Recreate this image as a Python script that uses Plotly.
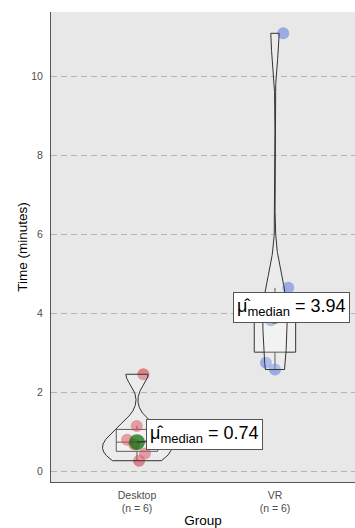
import numpy as np
import plotly.graph_objects as go

# Completion times per group (minutes)
groups = ["Desktop", "VR"]
desktop_times = [0.27, 0.45, 0.68, 0.80, 1.15, 2.46]
vr_times = [2.58, 2.75, 3.83, 4.05, 4.65, 11.10]
# horizontal jitter of the raw points (category units)
desktop_jitter = [0.015, 0.058, -0.02, -0.072, -0.002, 0.046]
vr_jitter = [0.0, -0.065, -0.03, 0.04, 0.096, 0.06]

y_ticks = [0, 2, 4, 6, 8, 10]

data = [desktop_times, vr_times]
jitters = [desktop_jitter, vr_jitter]
point_colors = ["rgba(205,30,45,0.5)", "rgba(78,112,224,0.5)"]
FONT = "Liberation Sans, Arial, sans-serif"
LINE = "#333333"


def bw_nrd0(v):
    v = np.asarray(v, float)
    iqr = np.subtract(*np.percentile(v, [75, 25]))
    return 0.9 * min(v.std(ddof=1), iqr / 1.34) * len(v) ** -0.2


def kde_trimmed(v, n=512):
    """Gaussian KDE evaluated over the data range (trimmed violin)."""
    v = np.asarray(v, float)
    bw = bw_nrd0(v)
    grid = np.linspace(v.min(), v.max(), n)
    z = (grid[:, None] - v[None, :]) / bw
    dens = np.exp(-0.5 * z ** 2).sum(1) / (len(v) * bw * np.sqrt(2 * np.pi))
    return grid, dens


kdes = [kde_trimmed(v) for v in data]
dmax = max(d.max() for _, d in kdes)
VIOLIN_WIDTH = 0.5  # full width of the widest violin, category units

fig = go.Figure()

# raw observations
for i, (v, jit) in enumerate(zip(data, jitters)):
    fig.add_trace(go.Scatter(
        x=[i + 1 + j for j in jit], y=v, mode="markers",
        marker=dict(size=12, color=point_colors[i], line=dict(width=0)),
        showlegend=False, hoverinfo="skip"))

# violins, area-scaled across groups
for i, (grid, dens) in enumerate(kdes):
    half = dens / dmax * VIOLIN_WIDTH / 2
    xs = np.concatenate([i + 1 + half, (i + 1 - half)[::-1], [i + 1 + half[0]]])
    ys = np.concatenate([grid, grid[::-1], [grid[0]]])
    fig.add_trace(go.Scatter(
        x=xs, y=ys, mode="lines", fill="toself",
        fillcolor="rgba(255,255,255,0.2)",
        line=dict(color=LINE, width=1), showlegend=False,
        hoverinfo="skip"))

# box plots (type-7 quartiles, Tukey whiskers, outliers hidden)
for i, v in enumerate(data):
    arr = np.asarray(v, float)
    q1, med, q3 = np.percentile(arr, [25, 50, 75])
    iqr = q3 - q1
    lo = arr[arr >= q1 - 1.5 * iqr].min()
    hi = arr[arr <= q3 + 1.5 * iqr].max()
    fig.add_trace(go.Box(
        x=[i + 1], q1=[q1], median=[med], q3=[q3],
        lowerfence=[lo], upperfence=[hi], width=0.3, whiskerwidth=0,
        boxpoints=False, line=dict(color=LINE, width=1),
        fillcolor="rgba(255,255,255,0.3)", showlegend=False,
        hoverinfo="skip"))

# group medians
medians = [float(np.median(v)) for v in data]
fig.add_trace(go.Scatter(
    x=[1, 2], y=medians, mode="markers",
    marker=dict(size=16, color="rgba(0,105,0,0.7)", line=dict(width=0)),
    showlegend=False, hoverinfo="skip"))

label_offsets = [(68, -8), (17, -8)]
for i, m in enumerate(medians):
    ax, ay = label_offsets[i]
    txt = ("μ̂<sub><span style='font-size:13px'>median</span></sub>"
           " = %.2f" % m)
    common = dict(
        x=i + 1, y=m, xref="x", yref="y", text=txt,
        font=dict(family=FONT, size=18, color="black"),
        bgcolor="white", bordercolor="#555555", borderwidth=1,
        borderpad=3)
    if i == 0:
        fig.add_annotation(**common, showarrow=True, arrowhead=0,
                           arrowwidth=1, arrowcolor=LINE,
                           ax=ax, ay=ay)
    else:
        fig.add_annotation(**common, showarrow=False, xshift=ax,
                           yshift=-ay)

fig.update_layout(
    width=355, height=528,
    margin=dict(l=51, r=0, t=12, b=46),
    paper_bgcolor="white", plot_bgcolor="#E8E8E8",
    font=dict(family=FONT),
    boxmode="overlay",
    showlegend=False,
)

fig.update_xaxes(
    range=[0.377, 2.58], tickvals=[1, 2],
    ticktext=["%s<br>(n = %d)" % (g, len(v)) for g, v in zip(groups, data)],
    tickfont=dict(size=10.5, color="#4D4D4D"), ticks="", ticklabelstandoff=3,
    showgrid=False, zeroline=False, showline=True, linecolor="#555555",
    linewidth=1,
    title=dict(text="Group", font=dict(size=13.5, color="black"), standoff=2),
)
fig.update_yaxes(
    range=[-0.27, 11.64], tickvals=y_ticks,
    tickfont=dict(size=10.5, color="#4D4D4D"), ticks="", ticklabelstandoff=5,
    showgrid=True, gridcolor="#B4B4B4", gridwidth=1, griddash="6px,4px",
    zeroline=False, showline=True, linecolor="#555555", linewidth=1,
    title=dict(text="Time (minutes)", font=dict(size=13.5, color="black"),
               standoff=0),
)

fig.write_html("out.html")
